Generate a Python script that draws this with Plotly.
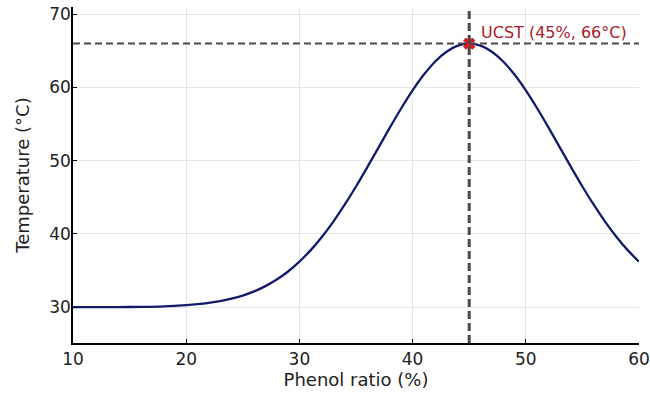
import plotly.graph_objects as go

phenol = [10, 12, 14, 16, 18, 20, 21, 22, 23, 24, 25, 26, 27, 28, 29, 30,
          31, 32, 33, 34, 35, 36, 37, 38, 39, 40, 41, 42, 43, 44, 45,
          46, 47, 48, 49, 50, 51, 52, 53, 54, 55, 56, 57, 58, 59, 60]
temperature = [30.00, 30.00, 30.01, 30.03, 30.10, 30.27, 30.40, 30.58, 30.82, 31.15,
               31.58, 32.15, 32.87, 33.77, 34.87, 36.21, 37.79, 39.62, 41.69, 43.99,
               46.48, 49.12, 51.83, 54.55, 57.17, 59.61, 61.77, 63.56, 64.89, 65.72,
               66.00, 65.72, 64.89, 63.56, 61.77, 59.61, 57.17, 54.55, 51.83, 49.12,
               46.48, 43.99, 41.69, 39.62, 37.79, 36.21]

ucst_x = [45]
ucst_y = [66]
ucst_label = "UCST (45%, 66°C)"
x_ticks = [10, 20, 30, 40, 50, 60]
y_ticks = [30, 40, 50, 60, 70]

font = "DejaVu Sans"
fig = go.Figure()
fig.add_hline(y=ucst_y[0], line=dict(color="#4a4a4a", width=2, dash="7px,4px"))
fig.add_vline(x=ucst_x[0], line=dict(color="#4a4a4a", width=3, dash="8px,4px"))
fig.add_trace(go.Scatter(x=phenol, y=temperature, mode="lines", line=dict(color="#141a6a", width=2.3),
                         line_shape="spline", showlegend=False))
fig.add_trace(go.Scatter(x=ucst_x, y=ucst_y, mode="markers", showlegend=False,
                         marker=dict(symbol="x", size=11, color="#d21f2a", line=dict(width=0))))
fig.add_annotation(x=ucst_x[0], y=ucst_y[0], text=ucst_label, showarrow=False,
                   xanchor="left", yanchor="bottom", xshift=10, yshift=0,
                   font=dict(family=font, size=16, color="#a8202a"))

axis_common = dict(showline=True, linecolor="black", linewidth=1.5, ticks="inside", ticklen=4,
                   tickcolor="black", showgrid=True, gridcolor="#e6e6e6", gridwidth=1,
                   zeroline=False, tickfont=dict(family=font, size=17, color="#222"),
                   mirror=False, automargin=False)
fig.update_xaxes(range=[10, 60], tickvals=x_ticks,
                 title=dict(text="Phenol ratio (%)", font=dict(family=font, size=18, color="#222"), standoff=4),
                 **axis_common)
fig.update_yaxes(range=[25.1, 71], tickvals=y_ticks, ticklabelstandoff=-3,
                 title=dict(text="Temperature (°C)", font=dict(family=font, size=18, color="#222"), standoff=15),
                 **axis_common)
fig.update_layout(width=650, height=394, margin=dict(l=73, r=11, t=7, b=51),
                  plot_bgcolor="white", paper_bgcolor="white")
fig.write_html("out.html", config={"displayModeBar": False},
               post_script="document.body.style.margin='0';document.body.style.overflow='hidden';")
